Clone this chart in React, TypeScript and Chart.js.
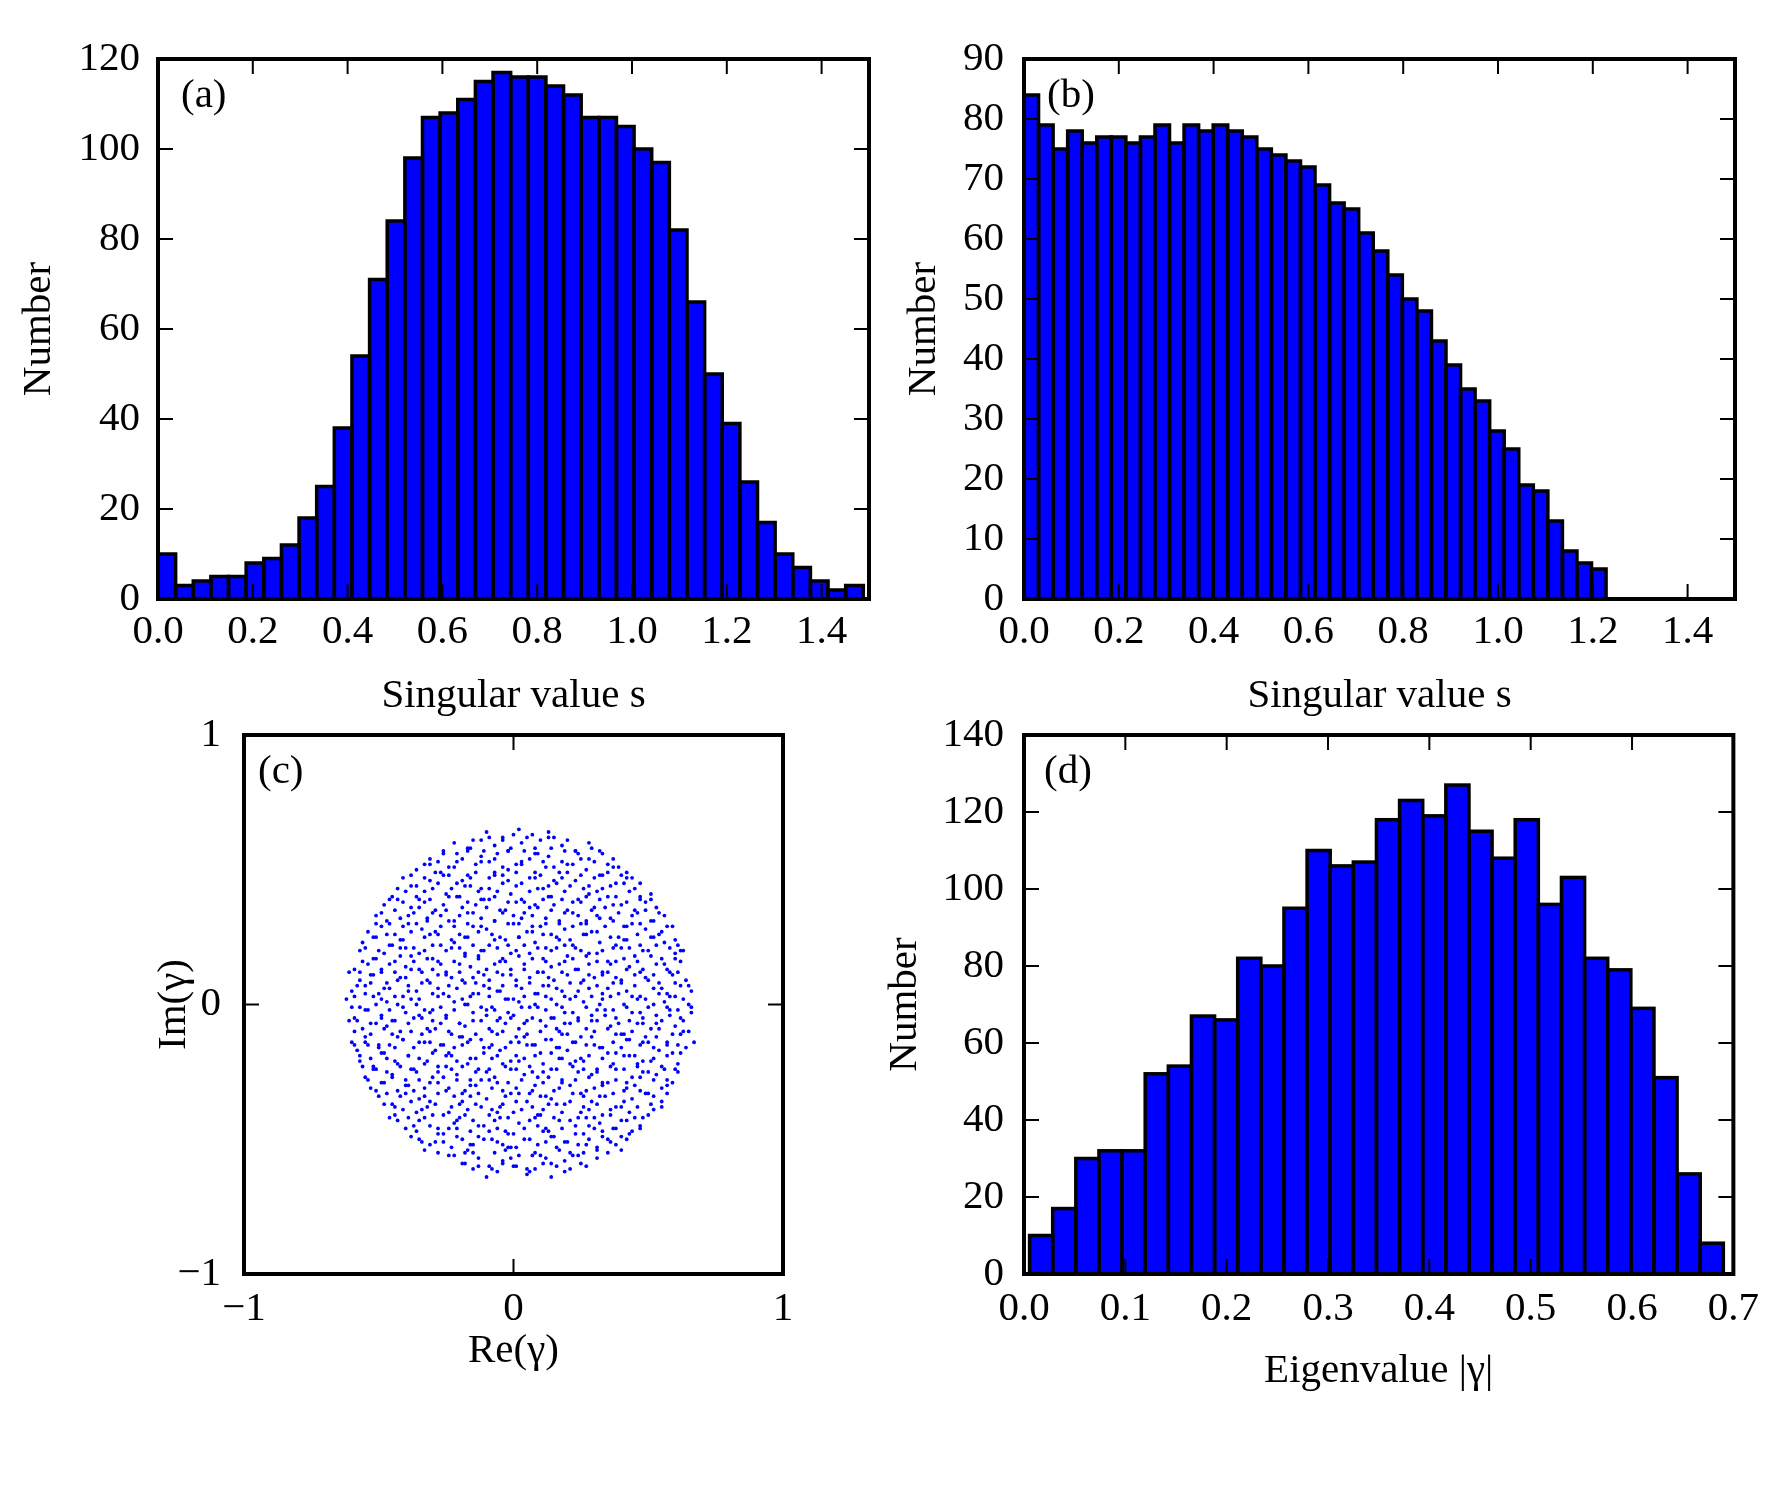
import React, { useEffect, useRef } from 'react';
import { Chart, registerables } from 'chart.js';

Chart.register(...registerables);

const FONT = '"Liberation Serif", "Times New Roman", serif';
const FONT_SIZE = 41;

// ---------- Panel (a): singular values ----------
const countsA = [10, 3, 4, 5, 5, 8, 9, 12, 18, 25, 38, 54, 71, 84, 98, 107, 108, 111, 115, 117,
  116, 116, 114, 112, 107, 107, 105, 100, 97, 82, 66, 50, 39, 26, 17, 10, 7, 4, 2, 3];
const binStartA = 0;
const binWidthA = 0.0372;
const xTicksA = [0, 0.2, 0.4, 0.6, 0.8, 1.0, 1.2, 1.4];
const yTicksA = [0, 20, 40, 60, 80, 100, 120];

// ---------- Panel (b): singular values ----------
const countsB = [84, 79, 75, 78, 76, 77, 77, 76, 77, 79, 76, 79, 78, 79, 78, 77, 75, 74, 73, 72,
  69, 66, 65, 61, 58, 54, 50, 48, 43, 39, 35, 33, 28, 25, 19, 18, 13, 8, 6, 5];
const binStartB = 0;
const binWidthB = 0.0307;
const xTicksB = [0, 0.2, 0.4, 0.6, 0.8, 1.0, 1.2, 1.4];
const yTicksB = [0, 10, 20, 30, 40, 50, 60, 70, 80, 90];

// ---------- Panel (d): eigenvalue moduli ----------
const countsD = [10, 17, 30, 32, 32, 52, 54, 67, 66, 82, 80, 95, 110, 106, 107, 118, 123, 119, 127, 115,
  108, 118, 96, 103, 82, 79, 69, 51, 26, 8];
const binStartD = 0.0055;
const binWidthD = 0.02282;
const xTicksD = [0, 0.1, 0.2, 0.3, 0.4, 0.5, 0.6, 0.7];
const yTicksD = [0, 20, 40, 60, 80, 100, 120, 140];

// ---------- Panel (c): eigenvalues in complex plane (Re, Im pairs, in hundredths) ----------
const eigenPoints = [
  -15,-61, -10,-64, -6,-62, 0,-60, 5,-63, 8,-61, 14,-64, 19,-62,
  -24,-56, -19,-59, -15,-55, -9,-60, -4,-58, -1,-57, 5,-61, 10,-56, 14,-59, 19,-58, 24,-56, 27,-60, 31,-57,
  -33,-54, -29,-51, -23,-53, -18,-55, -15,-52, -8,-50, -3,-54, 1,-53, 7,-56, 12,-51, 16,-53, 21,-55, 27,-52, 31,-54, 36,-51, 40,-54,
  -38,-49, -34,-51, -28,-48, -24,-46, -19,-50, -13,-49, -9,-47, -4,-52, 0,-48, 6,-50, 11,-47, 15,-49, 20,-51, 26,-48, 30,-46, 35,-50, 40,-49, 44,-47,
  -43,-43, -37,-45, -33,-42, -28,-46, -22,-44, -18,-41, -13,-45, -7,-43, -3,-47, 2,-44, 8,-42, 12,-46, 17,-43, 23,-45, 27,-42, 32,-44, 37,-46, 42,-43, 47,-45,
  -46,-42, -41,-39, -36,-40, -32,-38, -26,-41, -21,-43, -17,-39, -12,-38, -6,-40, -2,-42, 3,-39, 9,-41, 13,-37, 18,-40, 24,-42, 28,-39, 33,-41, 38,-38, 43,-40, 48,-42, 52,-39,
  -50,-34, -45,-37, -40,-33, -35,-35, -31,-36, -25,-32, -20,-37, -16,-34, -10,-35, -5,-38, -1,-33, 5,-36, 10,-34, 14,-35, 19,-37, 25,-33, 29,-36, 34,-34, 40,-38, 44,-35, 49,-33, 55,-36,
  -53,-31, -48,-29, -43,-32, -39,-30, -33,-34, -28,-29, -24,-31, -19,-33, -14,-30, -9,-28, -4,-32, 1,-31, 6,-33, 11,-29, 15,-32, 21,-30, 26,-34, 30,-31, 35,-29, 41,-32, 45,-30, 50,-33, 55,-31, 59,-29,
  -55,-27, -51,-24, -45,-26, -40,-28, -36,-25, -30,-27, -25,-23, -21,-26, -16,-28, -10,-25, -6,-29, -1,-24, 4,-26, 9,-27, 14,-24, 18,-28, 24,-25, 29,-26, 33,-29, 38,-24, 44,-27, 48,-25, 53,-26, 57,-28, 61,-25,
  -57,-21, -52,-23, -47,-20, -43,-22, -37,-24, -32,-21, -28,-23, -23,-19, -17,-22, -13,-24, -8,-20, -3,-23, 2,-21, 7,-25, 11,-22, 17,-20, 22,-23, 26,-21, 31,-24, 37,-22, 41,-19, 46,-23, 51,-21, 56,-24, 61,-22,
  -58,-17, -54,-15, -48,-18, -44,-16, -39,-19, -33,-14, -29,-17, -24,-18, -19,-15, -14,-20, -9,-16, -5,-17, 1,-19, 5,-15, 10,-18, 16,-16, 20,-17, 25,-20, 30,-15, 35,-18, 40,-16, 45,-19, 50,-14, 54,-17, 59,-18, 64,-16,
  -60,-14, -55,-12, -50,-15, -45,-11, -41,-13, -35,-14, -31,-10, -26,-15, -20,-12, -16,-13, -11,-16, -6,-11, -1,-14, 4,-12, 8,-15, 14,-13, 18,-11, 23,-14, 29,-12, 33,-16, 38,-11, 43,-13, 48,-14, 53,-12, 57,-15, 62,-11, 67,-14,
  -61,-6, -56,-9, -51,-7, -47,-8, -42,-10, -37,-5, -32,-9, -27,-7, -23,-11, -18,-8, -12,-6, -8,-10, -3,-7, 2,-9, 7,-5, 12,-8, 17,-10, 21,-7, 27,-9, 31,-6, 36,-8, 41,-11, 46,-7, 51,-9, 55,-6, 60,-8, 65,-10,
  -59,-5, -54,-2, -49,-4, -44,-6, -40,-3, -34,-5, -30,-2, -25,-4, -20,-7, -15,-3, -10,-2, -5,-5, 0,-4, 5,-6, 9,-1, 14,-5, 19,-3, 24,-6, 29,-4, 34,-2, 38,-5, 44,-3, 48,-7, 53,-4, 58,-2, 62,-5, 66,-3,
  -62,2, -57,-1, -52,3, -47,1, -43,0, -38,2, -33,-2, -28,3, -22,1, -18,0, -13,4, -8,-1, -3,2, 2,1, 6,-1, 12,3, 16,0, 21,2, 26,1, 31,-2, 36,3, 41,0, 46,2, 50,-1, 56,1, 60,3, 65,0,
  -60,5, -55,7, -50,4, -46,6, -41,3, -36,5, -31,8, -26,4, -21,6, -16,3, -11,7, -6,5, -2,2, 3,6, 8,4, 13,7, 18,5, 23,3, 28,6, 33,4, 37,8, 42,5, 47,3, 52,6, 57,4, 62,7, 66,5,
  -61,12, -57,9, -52,11, -47,8, -42,10, -38,13, -32,9, -28,11, -23,10, -18,8, -13,12, -9,9, -4,11, 1,7, 6,10, 11,12, 15,9, 20,11, 25,8, 30,10, 35,12, 40,9, 45,11, 49,10, 54,8, 59,11, 64,9,
  -59,13, -54,15, -49,12, -44,16, -40,14, -35,13, -30,17, -25,12, -20,15, -16,14, -11,11, -5,16, -1,13, 4,15, 9,12, 14,14, 19,16, 24,13, 28,15, 33,11, 38,16, 43,14, 48,13, 53,15, 58,12, 62,16,
  -57,20, -52,17, -48,19, -42,21, -38,18, -33,20, -28,16, -23,21, -18,19, -13,18, -9,22, -4,17, 1,20, 6,19, 11,17, 16,21, 20,18, 25,20, 31,19, 35,16, 40,21, 45,18, 50,20, 55,17, 60,19, 63,20,
  -56,23, -51,25, -46,22, -41,24, -37,21, -31,26, -27,22, -22,23, -17,25, -12,20, -7,24, -2,22, 2,25, 8,23, 12,21, 17,24, 22,22, 27,26, 32,23, 37,21, 42,24, 47,22, 52,25, 56,23, 61,22,
  -54,27, -49,29, -44,26, -39,30, -34,28, -29,27, -24,31, -20,26, -15,29, -10,28, -5,25, 0,30, 5,27, 10,29, 14,26, 19,28, 25,30, 29,27, 34,29, 39,25, 44,30, 49,28, 54,26, 59,29,
  -51,33, -46,30, -42,32, -37,34, -32,31, -27,33, -22,29, -17,34, -12,32, -7,31, -3,35, 2,30, 7,33, 12,32, 17,30, 22,34, 27,31, 31,33, 36,32, 41,29, 46,34, 51,31, 56,33,
  -48,37, -43,39, -38,36, -33,38, -29,35, -24,40, -19,36, -14,37, -9,39, -4,34, 1,38, 6,36, 11,39, 15,37, 20,35, 25,38, 30,36, 35,40, 40,37, 45,35, 49,38, 53,36,
  -45,40, -40,42, -35,39, -30,43, -25,41, -20,40, -16,44, -11,39, -6,42, -1,41, 4,38, 9,43, 14,40, 19,42, 24,39, 28,41, 33,43, 38,40, 43,42, 47,39, 51,41,
  -41,47, -36,44, -31,46, -26,48, -21,45, -16,47, -12,43, -7,48, -2,46, 3,45, 8,49, 13,44, 18,47, 23,46, 28,44, 33,48, 38,45, 42,47, 47,45,
  -36,50, -31,52, -27,49, -22,51, -17,48, -12,53, -7,49, -2,50, 3,52, 8,47, 12,51, 17,49, 22,52, 27,50, 32,48, 37,51, 42,49,
  -31,54, -26,56, -21,53, -17,57, -12,55, -7,54, -2,57, 3,53, 8,56, 13,55, 18,53, 23,57, 28,54, 33,56, 37,54,
  -22,60, -17,58, -12,61, -7,59, -2,57, 3,60, 8,58, 13,62, 18,59, 23,57, 28,60,
  -10,64, -4,62, 2,65, 7,63, 13,64,
  -18,-59, -13,-60, -8,-61, -4,-59, 1,-60, 6,-62, 11,-59, 16,-60, 21,-61, 25,-59,
  -28,-55, -22,-56, -17,-54, -13,-57, -7,-55, -2,-53, 2,-56, 8,-55, 12,-57, 17,-54, 22,-56, 26,-55, 31,-53, 35,-55,
  -35,-50, -31,-52, -26,-51, -21,-49, -16,-52, -11,-50, -6,-51, -1,-53, 4,-50, 9,-52, 14,-49, 19,-51, 24,-52, 28,-50, 33,-49, 38,-52, 42,-50,
  -40,-46, -36,-47, -31,-45, -26,-48, -21,-46, -16,-47, -11,-45, -6,-46, -2,-48, 4,-46, 9,-45, 13,-47, 18,-46, 23,-48, 28,-45, 33,-47, 38,-46, 43,-48, 47,-46,
  -44,-41, -39,-42, -35,-43, -30,-41, -24,-40, -20,-42, -15,-43, -9,-41, -5,-42, 0,-40, 6,-43, 10,-41, 15,-42, 21,-43, 25,-40, 30,-42, 36,-41, 40,-43, 45,-42, 50,-41,
  -48,-37, -44,-38, -38,-36, -34,-39, -29,-37, -23,-38, -19,-36, -14,-37, -8,-39, -4,-37, 1,-36, 7,-38, 11,-39, 16,-37, 21,-36, 26,-38, 31,-37, 36,-39, 41,-36, 46,-38, 51,-37, 55,-38,
  -51,-32, -47,-33, -42,-34, -37,-32, -33,-31, -28,-33, -22,-34, -18,-32, -13,-33, -8,-31, -3,-34, 2,-33, 7,-32, 12,-34, 17,-31, 22,-33, 27,-32, 32,-34, 37,-33, 42,-31, 47,-32, 52,-34, 57,-33,
  -54,-28, -49,-29, -45,-27, -40,-30, -35,-28, -31,-29, -26,-27, -21,-28, -16,-30, -12,-28, -7,-27, -2,-29, 3,-28, 8,-30, 13,-27, 18,-29, 23,-28, 28,-27, 33,-30, 38,-28, 42,-29, 47,-27, 52,-28, 57,-30,
  -56,-23, -52,-24, -47,-25, -42,-23, -38,-24, -33,-22, -28,-25, -23,-24, -19,-23, -14,-25, -9,-24, -4,-22, 1,-24, 6,-23, 11,-25, 16,-24, 21,-22, 26,-24, 31,-25, 36,-23, 41,-24, 46,-22, 50,-25, 55,-23, 60,-24,
  -57,-19, -53,-20, -49,-18, -44,-21, -39,-19, -35,-20, -30,-18, -25,-19, -21,-21, -16,-20, -11,-18, -6,-19, -1,-21, 4,-20, 8,-19, 14,-18, 18,-20, 23,-21, 28,-19, 33,-20, 38,-18, 43,-19, 48,-21, 52,-20, 57,-19, 62,-18,
  -59,-15, -55,-14, -50,-16, -46,-15, -41,-13, -37,-16, -31,-14, -27,-15, -22,-16, -17,-14, -12,-13, -8,-15, -3,-16, 2,-14, 7,-15, 12,-13, 17,-16, 22,-14, 27,-15, 32,-16, 37,-14, 42,-13, 47,-15, 52,-16, 57,-14, 61,-15,
  -59,-10, -53,-11, -48,-9, -43,-12, -38,-10, -34,-11, -29,-9, -24,-10, -19,-12, -14,-11, -9,-9, -4,-10, 1,-12, 5,-11, 10,-10, 16,-9, 20,-11, 25,-12, 30,-10, 35,-9, 40,-11, 44,-10, 49,-12, 54,-9, 59,-11, 63,-10,
  -58,-6, -53,-7, -49,-5, -45,-6, -39,-7, -35,-4, -30,-6, -25,-5, -20,-7, -15,-6, -10,-4, -6,-6, -1,-5, 4,-7, 10,-6, 15,-5, 19,-7, 24,-5, 29,-6, 34,-4, 39,-7, 43,-6, 48,-5, 53,-7, 58,-4, 63,-6,
  -60,-1, -55,-2, -51,0, -46,-2, -41,-1, -36,0, -31,-3, -27,-1, -22,-2, -17,0, -12,-1, -7,-2, -2,-3, 3,-1, 8,0, 12,-2, 18,-1, 22,-3, 27,-1, 32,0, 37,-2, 42,-1, 47,-3, 52,0, 57,-1, 61,-2, 66,-1,
  -59,3, -55,4, -49,2, -44,3, -39,5, -35,2, -30,4, -24,3, -19,2, -15,4, -9,3, -5,5, 0,2, 4,3, 9,4, 14,2, 19,3, 24,5, 29,3, 33,2, 39,4, 44,3, 49,2, 54,4, 58,3, 63,2,
  -58,7, -53,8, -48,6, -43,9, -39,7, -34,8, -28,6, -24,7, -19,9, -14,8, -9,6, -4,7, 1,9, 6,8, 11,7, 16,6, 21,8, 26,9, 31,7, 35,6, 40,8, 45,7, 50,9, 55,6, 60,8, 65,7,
  -57,12, -53,11, -49,13, -44,12, -40,10, -34,12, -30,13, -25,11, -20,12, -15,10, -10,13, -6,12, -1,11, 4,13, 9,12, 13,10, 18,12, 23,13, 28,11, 33,12, 38,10, 42,13, 47,12, 52,11, 57,13, 61,12,
  -56,16, -51,17, -46,15, -42,18, -37,16, -32,17, -27,15, -22,16, -18,18, -13,17, -7,15, -3,16, 2,18, 7,17, 12,16, 17,15, 22,17, 27,18, 31,16, 36,15, 41,17, 46,16, 51,18, 56,15, 60,17,
  -55,21, -50,20, -45,22, -40,21, -35,19, -30,22, -25,20, -20,21, -15,22, -11,20, -6,21, -1,19, 4,22, 9,21, 14,20, 19,22, 23,21, 28,19, 33,20, 38,22, 43,21, 48,20, 53,22, 58,21, 62,20,
  -52,25, -47,26, -42,24, -38,27, -33,25, -28,26, -23,24, -18,25, -13,27, -8,26, -3,24, 2,25, 7,27, 11,26, 16,25, 21,24, 26,26, 31,27, 36,25, 41,24, 46,26, 51,25, 55,27, 60,24,
  -51,30, -47,31, -41,29, -36,30, -32,32, -27,29, -22,31, -17,30, -12,29, -7,31, -2,30, 3,32, 7,29, 12,30, 17,31, 22,29, 27,30, 32,32, 37,31, 42,29, 47,30, 52,31, 57,29,
  -49,34, -44,35, -39,33, -35,36, -30,34, -25,35, -20,33, -15,34, -10,36, -5,35, 0,33, 4,34, 9,36, 14,35, 19,34, 24,33, 29,35, 34,36, 39,34, 44,33, 49,35, 54,34,
  -46,39, -41,38, -36,40, -31,39, -26,37, -21,40, -17,38, -12,39, -7,40, -2,38, 3,39, 8,37, 13,40, 18,39, 22,38, 27,40, 32,39, 37,37, 42,38, 47,40, 51,39,
  -43,43, -38,44, -33,42, -28,45, -23,43, -18,44, -13,42, -9,43, -4,45, 1,44, 6,42, 11,43, 16,45, 21,44, 26,43, 31,42, 36,44, 41,45, 45,43,
  -38,48, -33,47, -29,49, -24,48, -19,46, -14,49, -9,47, -4,48, 1,49, 6,47, 10,48, 15,46, 20,49, 25,48, 30,47, 35,49, 40,48, 44,47,
  -33,52, -28,53, -24,51, -19,54, -14,52, -9,53, -4,51, 1,52, 6,54, 11,53, 15,51, 20,52, 25,54, 30,53, 35,52, 39,51,
  -26,57, -21,56, -16,58, -11,57, -6,56, -1,58, 4,57, 9,56, 14,58, 19,57, 24,56, 29,58, 32,57,
  -15,61, -9,62, -4,61, 0,63, 5,62, 10,61, 15,62, 20,61,
];
const ticksC = [-1, 0, 1];

const TICK_LEN = 15;

const mplFrame = {
  id: 'mplFrame',
  afterDatasetsDraw(chart: any, _args: any, opts: any) {
    const ctx = chart.ctx as CanvasRenderingContext2D;
    const { left, right, top, bottom } = chart.chartArea;
    ctx.save();
    if (opts.outlineBars) {
      const meta = chart.getDatasetMeta(0);
      ctx.strokeStyle = '#000';
      ctx.lineWidth = 3.5;
      ctx.lineJoin = 'miter';
      meta.data.forEach((el: any) => {
        const p = el.getProps(['x', 'y', 'base', 'width'], true);
        ctx.strokeRect(p.x - p.width / 2, p.y, p.width, p.base - p.y);
      });
    }
    const xs = chart.scales.x;
    const ys = chart.scales.y;
    ctx.strokeStyle = '#000';
    ctx.lineWidth = 2;
    ctx.beginPath();
    xs.ticks.forEach((t: any) => {
      const px = xs.getPixelForValue(t.value);
      ctx.moveTo(px, bottom);
      ctx.lineTo(px, bottom - TICK_LEN);
      ctx.moveTo(px, top);
      ctx.lineTo(px, top + TICK_LEN);
    });
    ys.ticks.forEach((t: any) => {
      const py = ys.getPixelForValue(t.value);
      ctx.moveTo(left, py);
      ctx.lineTo(left + TICK_LEN, py);
      ctx.moveTo(right, py);
      ctx.lineTo(right - TICK_LEN, py);
    });
    ctx.stroke();
    ctx.lineWidth = 4;
    ctx.strokeRect(left, top, right - left, bottom - top);
    ctx.fillStyle = '#000';
    ctx.font = `${FONT_SIZE}px ${FONT}`;
    ctx.textBaseline = 'middle';
    ctx.textAlign = 'left';
    ctx.fillText(opts.label, left + opts.dx, top + 37);
    ctx.restore();
  },
};

type AxisOpts = {
  pos: 'x' | 'y';
  min: number;
  max: number;
  ticks: number[];
  fmt: (v: number) => string;
  size: number;
  pad: number;
  title: string;
  titlePad: number;
};

function axis(o: AxisOpts) {
  return {
    type: 'linear',
    min: o.min,
    max: o.max,
    offset: false,
    grid: { display: false, drawTicks: false },
    border: { display: false },
    afterBuildTicks: (s: any) => {
      s.ticks = o.ticks.map((v) => ({ value: v }));
    },
    afterFit: (s: any) => {
      if (o.pos === 'x') s.height = o.size;
      else s.width = o.size;
    },
    ticks: {
      autoSkip: false,
      maxRotation: 0,
      minRotation: 0,
      padding: o.pad,
      color: '#000',
      font: { family: FONT, size: FONT_SIZE },
      callback: (v: any) => o.fmt(Number(v)),
    },
    title: {
      display: true,
      text: o.title,
      color: '#000',
      font: { family: FONT, size: FONT_SIZE, lineHeight: 1 },
      padding: o.pos === 'x' ? { top: 0, bottom: o.titlePad } : { top: o.titlePad, bottom: 0 },
    },
  };
}

const fmt1 = (v: number) => v.toFixed(1);
const fmtInt = (v: number) => String(Math.round(v));
const fmtSigned = (v: number) => (v < 0 ? '\u2212' + Math.abs(v) : String(v));

function histConfig(p: {
  counts: number[];
  start: number;
  width: number;
  xMax: number;
  xTicks: number[];
  yMax: number;
  yTicks: number[];
  xTitle: string;
  label: string;
  dx: number;
  yAxisW: number;
  xAxisH: number;
  yPad: number;
  xPad: number;
  yTitlePad: number;
  xTitlePad: number;
  padTop: number;
  padRight: number;
}) {
  return {
    type: 'bar',
    data: {
      datasets: [
        {
          data: p.counts.map((c, i) => ({ x: p.start + (i + 0.5) * p.width, y: c })),
          backgroundColor: '#0000ff',
          borderWidth: 0,
          barPercentage: 1,
          categoryPercentage: 1,
        },
      ],
    },
    options: {
      responsive: false,
      animation: false,
      layout: { padding: { left: 0, top: p.padTop, right: p.padRight, bottom: 0 } },
      plugins: {
        legend: { display: false },
        tooltip: { enabled: false },
        mplFrame: { label: p.label, dx: p.dx, outlineBars: true },
      },
      scales: {
        x: axis({ pos: 'x', min: 0, max: p.xMax, ticks: p.xTicks, fmt: fmt1, size: p.xAxisH, pad: p.xPad, title: p.xTitle, titlePad: p.xTitlePad }),
        y: axis({ pos: 'y', min: 0, max: p.yMax, ticks: p.yTicks, fmt: fmtInt, size: p.yAxisW, pad: p.yPad, title: 'Number', titlePad: p.yTitlePad }),
      },
    },
    plugins: [mplFrame],
  };
}

function scatterConfig() {
  const pts: { x: number; y: number }[] = [];
  for (let i = 0; i + 1 < eigenPoints.length; i += 2) {
    pts.push({ x: eigenPoints[i] / 100, y: eigenPoints[i + 1] / 100 });
  }
  return {
    type: 'scatter',
    data: {
      datasets: [
        {
          data: pts,
          backgroundColor: '#0000ff',
          borderWidth: 0,
          pointRadius: 1.9,
          pointBorderWidth: 0,
          pointHoverRadius: 1.9,
        },
      ],
    },
    options: {
      responsive: false,
      animation: false,
      layout: { padding: { left: 0, top: 60, right: 87, bottom: 0 } },
      plugins: {
        legend: { display: false },
        tooltip: { enabled: false },
        mplFrame: { label: '(c)', dx: 14, outlineBars: false },
      },
      scales: {
        x: axis({ pos: 'x', min: -1, max: 1, ticks: ticksC, fmt: fmtSigned, size: 126, pad: 11, title: 'Re(\u03b3)', titlePad: 28 }),
        y: axis({ pos: 'y', min: -1, max: 1, ticks: ticksC, fmt: fmtSigned, size: 244, pad: 23, title: 'Im(\u03b3)', titlePad: 154 }),
      },
    },
    plugins: [mplFrame],
  };
}

function Panel(props: { left: number; top: number; width: number; height: number; build: () => any }) {
  const ref = useRef<HTMLCanvasElement>(null);
  useEffect(() => {
    const chart = new Chart(ref.current as HTMLCanvasElement, props.build());
    return () => chart.destroy();
  }, []);
  return (
    <canvas
      ref={ref}
      width={props.width}
      height={props.height}
      style={{ position: 'absolute', left: props.left, top: props.top, width: props.width, height: props.height }}
    />
  );
}

export default function App() {
  return (
    <div style={{ position: 'absolute', left: 0, top: 0, width: 1770, height: 1500, background: '#fff' }}>
      <Panel
        left={0}
        top={0}
        width={885}
        height={720}
        build={() =>
          histConfig({
            counts: countsA, start: binStartA, width: binWidthA, xMax: 1.5, xTicks: xTicksA, yMax: 120, yTicks: yTicksA,
            xTitle: 'Singular value s', label: '(a)', dx: 23, yAxisW: 158, xAxisH: 121, yPad: 18, xPad: 9,
            yTitlePad: 19, xTitlePad: 3, padTop: 59, padRight: 16,
          })
        }
      />
      <Panel
        left={885}
        top={0}
        width={885}
        height={720}
        build={() =>
          histConfig({
            counts: countsB, start: binStartB, width: binWidthB, xMax: 1.5, xTicks: xTicksB, yMax: 90, yTicks: yTicksB,
            xTitle: 'Singular value s', label: '(b)', dx: 23, yAxisW: 139, xAxisH: 121, yPad: 20, xPad: 9,
            yTitlePad: 19, xTitlePad: 3, padTop: 59, padRight: 35,
          })
        }
      />
      <Panel left={0} top={675} width={870} height={725} build={scatterConfig} />
      <Panel
        left={870}
        top={675}
        width={900}
        height={725}
        build={() =>
          histConfig({
            counts: countsD, start: binStartD, width: binWidthD, xMax: 0.7, xTicks: xTicksD, yMax: 140, yTicks: yTicksD,
            xTitle: 'Eigenvalue |\u03b3|', label: '(d)', dx: 20, yAxisW: 154, xAxisH: 126, yPad: 20, xPad: 11,
            yTitlePad: 15, xTitlePad: 8, padTop: 60, padRight: 35,
          })
        }
      />
    </div>
  );
}
